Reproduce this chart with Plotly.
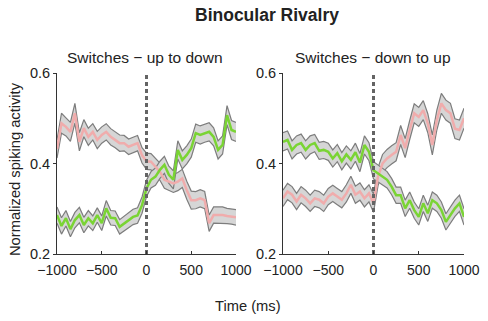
import plotly.graph_objects as go

time_ms = list(range(-1000, 1001, 50))
x_ticks = [-1000, -500, 0, 500, 1000]
x_ticktext = ["\u22121000", "\u2212500", "0", "500", "1000"]
y_ticks = [0.2, 0.4, 0.6]
y_ticktext = ["0.2", "0.4", "0.6"]
panel_titles = ["Switches \u2212 up to down", "Switches \u2212 down to up"]

# Left panel: switches up to down
pink_left = [0.432, 0.489, 0.481, 0.470, 0.511, 0.448, 0.478, 0.459, 0.470, 0.452, 0.463,
             0.470, 0.459, 0.452, 0.445, 0.445, 0.437, 0.441, 0.445, 0.418, 0.405,
             0.404, 0.393, 0.382, 0.364, 0.360, 0.356, 0.360, 0.367, 0.341, 0.319,
             0.319, 0.323, 0.319, 0.268, 0.286, 0.286, 0.286, 0.284, 0.283, 0.281]
green_left = [0.286, 0.262, 0.279, 0.255, 0.275, 0.286, 0.264, 0.279, 0.268, 0.286, 0.268,
              0.301, 0.280, 0.279, 0.260, 0.268, 0.275, 0.282, 0.285, 0.308, 0.345,
              0.364, 0.371, 0.386, 0.397, 0.375, 0.364, 0.430, 0.408, 0.419, 0.434,
              0.467, 0.463, 0.467, 0.470, 0.459, 0.430, 0.441, 0.507, 0.474, 0.470]
sem_pink_left = [0.020, 0.022, 0.020, 0.021, 0.022, 0.020, 0.019, 0.019, 0.018, 0.019, 0.018,
                 0.018, 0.018, 0.017, 0.018, 0.017, 0.017, 0.017, 0.017, 0.017, 0.018,
                 0.018, 0.018, 0.019, 0.019, 0.019, 0.020, 0.020, 0.020, 0.020, 0.020,
                 0.019, 0.019, 0.019, 0.018, 0.018, 0.018, 0.018, 0.017, 0.017, 0.017]
sem_green_left = [0.018, 0.018, 0.017, 0.017, 0.017, 0.017, 0.017, 0.017, 0.016, 0.016, 0.016,
                  0.017, 0.016, 0.016, 0.016, 0.016, 0.017, 0.017, 0.017, 0.018, 0.018,
                  0.018, 0.019, 0.019, 0.019, 0.019, 0.020, 0.020, 0.020, 0.020, 0.020,
                  0.020, 0.020, 0.020, 0.020, 0.020, 0.020, 0.020, 0.021, 0.021, 0.021]

# Right panel: switches down to up
pink_right = [0.323, 0.338, 0.331, 0.316, 0.331, 0.323, 0.312, 0.323, 0.320, 0.312, 0.327,
              0.334, 0.327, 0.320, 0.334, 0.353, 0.331, 0.338, 0.323, 0.334, 0.312,
              0.371, 0.400, 0.411, 0.419, 0.426, 0.463, 0.434, 0.474, 0.511, 0.503,
              0.518, 0.489, 0.441, 0.496, 0.533, 0.518, 0.511, 0.477, 0.474, 0.500]
green_right = [0.448, 0.452, 0.430, 0.441, 0.445, 0.430, 0.441, 0.445, 0.428, 0.430, 0.426,
               0.411, 0.423, 0.405, 0.420, 0.408, 0.425, 0.402, 0.441, 0.426, 0.385,
               0.378, 0.371, 0.364, 0.349, 0.330, 0.330, 0.301, 0.319, 0.297, 0.282,
               0.312, 0.290, 0.319, 0.312, 0.297, 0.271, 0.286, 0.301, 0.312, 0.282]
sem_pink_right = [0.018, 0.018, 0.018, 0.018, 0.018, 0.018, 0.018, 0.018, 0.018, 0.018, 0.018,
                  0.018, 0.018, 0.018, 0.019, 0.019, 0.019, 0.019, 0.019, 0.019, 0.020,
                  0.020, 0.020, 0.020, 0.020, 0.020, 0.021, 0.021, 0.021, 0.021, 0.021,
                  0.021, 0.021, 0.022, 0.022, 0.022, 0.022, 0.022, 0.022, 0.022, 0.022]
sem_green_right = [0.020, 0.020, 0.020, 0.020, 0.020, 0.020, 0.020, 0.019, 0.019, 0.019, 0.019,
                   0.019, 0.019, 0.019, 0.019, 0.020, 0.020, 0.020, 0.020, 0.020, 0.019,
                   0.019, 0.018, 0.018, 0.018, 0.018, 0.018, 0.018, 0.018, 0.018, 0.018,
                   0.018, 0.018, 0.018, 0.018, 0.018, 0.018, 0.018, 0.018, 0.018, 0.018]

PINK = "rgb(240,172,172)"
GREEN = "rgb(122,212,52)"
BAND = "rgb(214,214,214)"
EDGE = "rgb(125,125,125)"
FONT = "Liberation Sans, Arial, sans-serif"

fig = go.Figure()


def add_series(mean, sem, xa, ya):
    upper = [m + s for m, s in zip(mean, sem)]
    lower = [m - s for m, s in zip(mean, sem)]
    fig.add_trace(go.Scatter(x=time_ms, y=upper, mode="lines", xaxis=xa, yaxis=ya,
                             line=dict(color=EDGE, width=1.2), showlegend=False, hoverinfo="skip"))
    fig.add_trace(go.Scatter(x=time_ms, y=lower, mode="lines", xaxis=xa, yaxis=ya, fill="tonexty",
                             fillcolor=BAND, line=dict(color=EDGE, width=1.2), showlegend=False,
                             hoverinfo="skip"))


def add_mean(mean, color, xa, ya):
    fig.add_trace(go.Scatter(x=time_ms, y=mean, mode="lines", xaxis=xa, yaxis=ya,
                             line=dict(color=color, width=2.5), showlegend=False))


for (pk, gr, spk, sgr, xa, ya) in [
    (pink_left, green_left, sem_pink_left, sem_green_left, "x", "y"),
    (pink_right, green_right, sem_pink_right, sem_green_right, "x2", "y2"),
]:
    add_series(pk, spk, xa, ya)
    add_series(gr, sgr, xa, ya)
    add_mean(pk, PINK, xa, ya)
    add_mean(gr, GREEN, xa, ya)
    fig.add_trace(go.Scatter(x=[0, 0], y=[0.2, 0.6], mode="lines", xaxis=xa, yaxis=ya,
                             line=dict(color="rgb(100,100,100)", width=3, dash="4px,3px"),
                             showlegend=False, hoverinfo="skip"))

W, H = 488, 321
ydom = [(H - 254) / H, (H - 73) / H]

xcommon = dict(range=[-1000, 1000], tickvals=x_ticks, ticktext=x_ticktext, showline=True,
               linecolor="#333333", linewidth=1, ticks="inside", ticklen=3, tickcolor="#333333",
               showgrid=False, zeroline=False, automargin=False, ticklabelstandoff=3,
               tickfont=dict(family=FONT, size=14, color="#222222"))
ycommon = dict(range=[0.2, 0.6], tickvals=y_ticks, ticktext=y_ticktext, showline=True,
               linecolor="#333333", linewidth=1, ticks="outside", ticklen=3, tickcolor="#333333",
               showgrid=False, zeroline=False, automargin=False,
               tickfont=dict(family=FONT, size=14.5, color="#222222"), domain=ydom)

fig.update_layout(
    template="none",
    width=W, height=H, autosize=False,
    margin=dict(l=0, r=0, t=0, b=0, pad=0, autoexpand=False),
    paper_bgcolor="white", plot_bgcolor="white",
    showlegend=False,
    xaxis=dict(domain=[57 / W, 236 / W], anchor="y", **xcommon),
    yaxis=dict(anchor="x", **ycommon),
    xaxis2=dict(domain=[283 / W, 464 / W], anchor="y2", **xcommon),
    yaxis2=dict(anchor="x2", **ycommon),
    annotations=[
        dict(text="<b>Binocular Rivalry</b>", x=267 / W, y=1 - 15 / H, xref="paper", yref="paper",
             showarrow=False, font=dict(family=FONT, size=17.5, color="#222222"),
             xanchor="center", yanchor="middle"),
        dict(text=panel_titles[0], x=145 / W, y=1 - 57 / H, xref="paper", yref="paper",
             showarrow=False, font=dict(family=FONT, size=15.5, color="#222222"),
             xanchor="center", yanchor="middle"),
        dict(text=panel_titles[1], x=373 / W, y=1 - 57 / H, xref="paper", yref="paper",
             showarrow=False, font=dict(family=FONT, size=15.5, color="#222222"),
             xanchor="center", yanchor="middle"),
        dict(text="Normalized spiking activity", x=15 / W, y=1 - 169 / H, xref="paper",
             yref="paper", showarrow=False, textangle=-90,
             font=dict(family=FONT, size=14.7, color="#222222"), xanchor="center", yanchor="middle"),
        dict(text="Time (ms)", x=248 / W, y=1 - 306 / H, xref="paper", yref="paper",
             showarrow=False, font=dict(family=FONT, size=14.7, color="#222222"),
             xanchor="center", yanchor="middle"),
    ],
)

fig.write_html("out.html")
